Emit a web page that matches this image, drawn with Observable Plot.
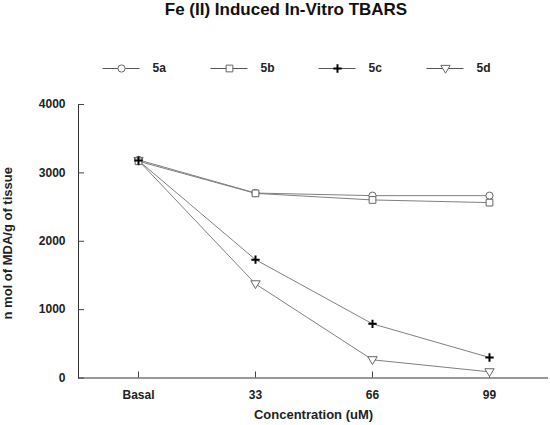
<!DOCTYPE html>
<html>
<head>
<meta charset="utf-8">
<script src="https://cdn.jsdelivr.net/npm/d3@7"></script>
<script src="https://cdn.jsdelivr.net/npm/@observablehq/plot@0.6"></script>
<style>
  body { margin: 0; background: #fff; }
  #chart { position: relative; width: 550px; height: 425px; font-family: "Liberation Sans", Arial, sans-serif; }
  #title { position: absolute; left: 22px; top: 0; width: 528px; text-align: center;
           font-size: 17px; font-weight: bold; line-height: 20px; color: #111; }
  #legend { position: absolute; left: 0; top: 53px; }
  #main { position: absolute; left: 0; top: 90px; }
  svg text { font-weight: bold; }
</style>
</head>
<body>
<div id="chart">
  <div id="title">Fe (II) Induced In-Vitro TBARS</div>
  <div id="legend"></div>
  <div id="main"></div>
</div>
<script>
var categories = ["Basal", "33", "66", "99"];
var seriesNames = ["5a", "5b", "5c", "5d"];
var s5a = [3190, 2705, 2667, 2667];
var s5b = [3170, 2700, 2604, 2565];
var s5c = [3180, 1731, 792, 300];
var s5d = [3180, 1376, 266, 90];
var yTicks = [0, 1000, 2000, 3000, 4000];

// open triangle pointing down (not in Plot's symbol set)
var triangleDown = {
  draw(context, size) {
    var s = Math.sqrt(size);
    context.moveTo(-s * 0.6, -s * 0.4);
    context.lineTo(s * 0.6, -s * 0.4);
    context.lineTo(0, s * 0.6);
    context.closePath();
  }
};

var markStyle = {
  "5a": {symbol: "circle", r: 3.6, stroke: "#666", fill: "white", strokeWidth: 1},
  "5b": {symbol: "square", r: 3.8, stroke: "#666", fill: "white", strokeWidth: 1},
  "5c": {symbol: "plus", r: 2.8, stroke: "black", fill: "none", strokeWidth: 2},
  "5d": {symbol: triangleDown, r: 4.4, stroke: "#666", fill: "white", strokeWidth: 1}
};

var allSeries = [s5a, s5b, s5c, s5d];
var rows = [];
seriesNames.forEach((name, i) => {
  categories.forEach((c, j) => {
    rows.push({series: name, cat: c, value: allSeries[i][j]});
  });
});

// draw order so the square with the plus on it ends up on top at Basal
var drawOrder = ["5d", "5a", "5b", "5c"];
var dotMarks = drawOrder.map((name) =>
  Plot.dot(rows.filter((d) => d.series == name), {x: "cat", y: "value", ...markStyle[name]})
);

var plot = Plot.plot({
  width: 550,
  height: 335,
  marginLeft: 78,
  marginRight: 2,
  marginTop: 14,
  marginBottom: 47.5,
  style: {fontFamily: "Liberation Sans, Arial, sans-serif", fontSize: "12px", color: "#222", overflow: "visible"},
  x: {type: "point", domain: categories, padding: 0.5},
  y: {domain: [0, 4000]},
  marks: [
    Plot.frame({anchor: "left", stroke: "#333"}),
    Plot.ruleY([0], {stroke: "#333"}),
    Plot.axisX({tickSize: -6, tickPadding: 18, label: null, stroke: "#444", fontSize: 12}),
    Plot.axisY({ticks: yTicks, tickFormat: "d", tickSize: -6, tickPadding: 19, label: null, stroke: "#444", fontSize: 12}),
    Plot.text(["n mol of MDA/g of tissue"], {frameAnchor: "left", textAnchor: "middle", rotate: -90, dx: -71, dy: 2, fontSize: 13}),
    Plot.text(["Concentration (uM)"], {frameAnchor: "bottom", dy: 41, fontSize: 13}),
    Plot.line(rows, {x: "cat", y: "value", z: "series", stroke: "#808080", strokeWidth: 1}),
    ...dotMarks
  ]
});
document.getElementById("main").appendChild(plot);

// legend: one band per series, short line + symbol + label
var legendMarks = [];
seriesNames.forEach((name) => {
  legendMarks.push(Plot.tickY([name], {x: (d) => d, y: () => 0, stroke: "#555", insetLeft: 35.5, insetRight: 35.5}));
  legendMarks.push(Plot.dot([name], {x: (d) => d, y: () => 0, ...markStyle[name]}));
  legendMarks.push(Plot.text([name], {x: (d) => d, y: () => 0, text: (d) => d, dx: 31, textAnchor: "start", fontSize: 12}));
});
var legend = Plot.plot({
  width: 550,
  height: 30,
  marginLeft: 66.5,
  marginRight: 50.3,
  marginTop: 0,
  marginBottom: 0,
  style: {fontFamily: "Liberation Sans, Arial, sans-serif", fontSize: "12px", color: "#222", overflow: "visible"},
  x: {type: "band", domain: seriesNames, padding: 0, axis: null},
  y: {domain: [-1, 1], axis: null},
  marks: legendMarks
});
document.getElementById("legend").appendChild(legend);
</script>
</body>
</html>
